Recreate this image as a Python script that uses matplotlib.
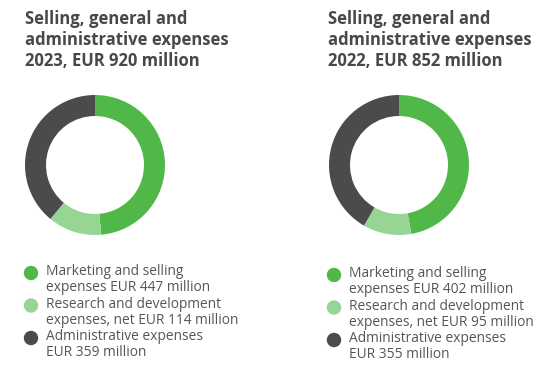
import matplotlib
matplotlib.use("Agg")
import matplotlib.pyplot as plt
from matplotlib.patches import Ellipse

W, H = 559, 372

# data
years = ["2023", "2022"]
totals = [920, 852]
categories = ["Marketing and selling\nexpenses", "Research and development\nexpenses, net", "Administrative expenses\n"]
values_2023 = [447, 114, 359]
values_2022 = [402, 95, 355]
colors = ["#50b848", "#97d595", "#4b4b4e"]

text_col = "#48484b"
plt.rcParams['font.family'] = ['Open Sans', 'DejaVu Sans']

fig = plt.figure(figsize=(W / 100, H / 100), dpi=100)


def px(x, y):
    return x / W, 1 - y / H


panels = [
    (years[0], totals[0], values_2023, 25, 95, 0),
    (years[1], totals[1], values_2022, 328, 399, 2),
]

for year, total, vals, x0, cx, dy in panels:
    # title
    title = "Selling, general and\nadministrative expenses\n{}, EUR {} million".format(year, total)
    fig.text(*px(x0, 10), title, fontsize=12.0, fontweight="bold", color=text_col,
             va="top", ha="left", linespacing=1.22)

    # donut
    r = 70
    ax = fig.add_axes([(cx - r) / W, (H - 165 - r) / H, 2 * r / W, 2 * r / H])
    ax.pie(vals, colors=colors, startangle=90, counterclock=False,
           wedgeprops=dict(width=0.3, linewidth=0))
    ax.set_xlim(-1, 1)
    ax.set_ylim(-1, 1)
    ax.set_aspect("equal")
    ax.axis("off")

    # legend
    for i, (cat, v, c) in enumerate(zip(categories, vals, colors)):
        y = 264 + dy + i * 32.5
        lines = cat.split("\n")
        if lines[1]:
            label = "{}\n{} EUR {} million".format(lines[0], lines[1], v)
        else:
            label = "{}\nEUR {} million".format(lines[0], v)
        fig.text(*px(x0 + 21, y), label, fontsize=9.9, color="#55555a",
                 va="top", ha="left", linespacing=1.1)
        fig.patches.append(Ellipse(px(x0 + 6, y + 9), 13 / W, 13 / H, color=c,
                                   transform=fig.transFigure, figure=fig))

fig.savefig("out.png", dpi=100)
